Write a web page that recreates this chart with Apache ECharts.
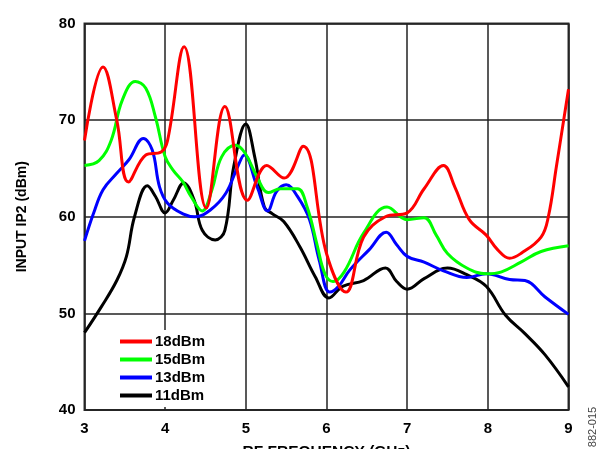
<!DOCTYPE html>
<html>
<head>
<meta charset="utf-8">
<script src="https://cdn.jsdelivr.net/npm/echarts@6/dist/echarts.min.js"></script>
<style>html,body{margin:0;padding:0;background:#fff}#c{width:609px;height:449px}</style>
</head>
<body>
<div id="c"></div>
<script>
const xTicks = [3, 4, 5, 6, 7, 8, 9];
const yTicks = [40, 50, 60, 70, 80];

const f18 = [3.0, 3.23, 3.40, 3.545, 3.76, 3.95, 4.03, 4.235, 4.51, 4.74, 5.02, 5.26, 5.475, 5.71, 6.0, 6.24, 6.46, 6.73, 7.0, 7.21, 7.45, 7.59, 7.77, 7.98, 8.12, 8.27, 8.41, 8.66, 8.75, 8.85, 9.0];
const v18 = [67.9, 75.5, 70.0, 63.6, 66.4, 66.7, 67.9, 77.6, 60.9, 71.4, 61.7, 65.3, 64.0, 67.3, 56.2, 52.2, 57.9, 60.0, 60.4, 62.9, 65.3, 63.1, 59.7, 58.1, 56.6, 55.7, 56.2, 57.9, 60.0, 65.2, 73.2];

const f15 = [3.0, 3.18, 3.33, 3.47, 3.63, 3.76, 3.88, 4.0, 4.1, 4.22, 4.32, 4.46, 4.58, 4.70, 4.87, 4.99, 5.14, 5.28, 5.43, 5.64, 5.76, 5.88, 5.98, 6.08, 6.22, 6.46, 6.75, 7.0, 7.21, 7.36, 7.50, 7.74, 7.98, 8.17, 8.41, 8.66, 9.0];
const v15 = [65.3, 65.8, 67.9, 72.1, 74.0, 73.3, 70.3, 66.2, 64.8, 63.6, 62.1, 60.6, 62.8, 66.2, 67.4, 66.6, 64.1, 62.5, 62.9, 62.9, 61.0, 57.2, 54.1, 53.3, 54.3, 58.3, 61.0, 59.7, 59.9, 58.1, 56.2, 54.7, 54.1, 54.3, 55.3, 56.4, 57.0];

const f13 = [3.0, 3.11, 3.23, 3.40, 3.55, 3.73, 3.84, 3.93, 4.03, 4.22, 4.37, 4.56, 4.75, 4.90, 4.98, 5.14, 5.27, 5.38, 5.50, 5.64, 5.79, 5.91, 6.04, 6.15, 6.29, 6.53, 6.74, 6.87, 7.0, 7.21, 7.45, 7.74, 7.98, 8.27, 8.46, 8.71, 9.0];
const v13 = [57.5, 60.3, 62.8, 64.5, 65.9, 68.1, 66.9, 63.1, 61.4, 60.3, 60.0, 60.7, 62.4, 65.2, 66.4, 63.1, 60.6, 62.6, 63.3, 62.1, 59.7, 55.5, 52.2, 52.8, 54.5, 56.6, 58.4, 57.1, 55.9, 55.3, 54.4, 53.7, 54.1, 53.5, 53.4, 51.7, 49.9];

const f11 = [3.0, 3.21, 3.40, 3.52, 3.62, 3.78, 3.88, 4.0, 4.10, 4.23, 4.36, 4.46, 4.62, 4.74, 4.85, 5.0, 5.11, 5.23, 5.33, 5.47, 5.67, 5.86, 6.03, 6.20, 6.46, 6.73, 6.87, 7.0, 7.21, 7.50, 7.74, 7.98, 8.22, 8.46, 8.71, 9.0];
const v11 = [48.0, 50.7, 53.4, 55.9, 60.0, 63.2, 62.1, 60.4, 61.7, 63.5, 61.7, 58.6, 57.6, 58.6, 65.2, 69.6, 66.2, 61.0, 60.3, 59.5, 56.9, 53.8, 51.6, 52.8, 53.4, 54.7, 53.3, 52.5, 53.6, 54.7, 54.0, 52.8, 49.8, 47.9, 45.7, 42.4];

const seriesNames = ['18dBm', '15dBm', '13dBm', '11dBm'];
const seriesColors = ['#ff0000', '#00ff00', '#0000ff', '#000000'];
const seriesX = [f18, f15, f13, f11];
const seriesY = [v18, v15, v13, v11];

const zip = (xs, ys) => xs.map((x, i) => [x, ys[i]]);
const font = 'Arial, "Liberation Sans", sans-serif';

const chart = echarts.init(document.getElementById('c'), null, {renderer: 'canvas'});
chart.setOption({
  animation: false,
  backgroundColor: '#fff',
  grid: {left: 84.5, right: 40.5, top: 23.5, bottom: 39, show: true, borderColor: '#333', borderWidth: 2,
         backgroundColor: 'transparent', containLabel: false, outerBoundsMode: 'none'},
  xAxis: {
    type: 'value', min: xTicks[0], max: xTicks[xTicks.length - 1], interval: 1,
    axisLine: {show: false}, axisTick: {show: false},
    splitLine: {show: true, lineStyle: {color: '#222', width: 1.5}},
    axisLabel: {color: '#000', fontFamily: font, fontWeight: 'bold', fontSize: 15, margin: 11},
    name: 'RF FREQUENCY (GHz)', nameLocation: 'middle', nameGap: 34,
    nameTextStyle: {color: '#000', fontFamily: font, fontWeight: 'bold', fontSize: 15.5}
  },
  yAxis: {
    type: 'value', min: yTicks[0], max: yTicks[yTicks.length - 1], interval: 10,
    axisLine: {show: false}, axisTick: {show: false},
    splitLine: {show: true, lineStyle: {color: '#222', width: 1.5}},
    axisLabel: {color: '#000', fontFamily: font, fontWeight: 'bold', fontSize: 15, margin: 9},
    name: 'INPUT IP2 (dBm)', nameLocation: 'middle', nameGap: 55, nameRotate: 90,
    nameTextStyle: {color: '#000', fontFamily: font, fontWeight: 'bold', fontSize: 14}
  },
  legend: {
    show: true, orient: 'vertical', left: 116, top: 330,
    backgroundColor: '#fff', padding: [4, 4, 4, 4],
    itemWidth: 32, itemHeight: 4, itemGap: 3, icon: 'rect',
    textStyle: {color: '#000', fontFamily: font, fontWeight: 'bold', fontSize: 15, padding: [0, 0, 0, -2]},
    data: seriesNames
  },
  graphic: [{
    type: 'text', x: 593, y: 427, rotation: Math.PI / 2,
    style: {text: '882-015', fill: '#444', font: '11px Arial, "Liberation Sans", sans-serif', align: 'center', verticalAlign: 'middle'}
  }],
  series: seriesNames.map((n, i) => ({
    name: n, type: 'line', smooth: 0.4, symbol: 'none',
    data: zip(seriesX[i], seriesY[i]),
    lineStyle: {color: seriesColors[i], width: 3},
    itemStyle: {color: seriesColors[i]},
    z: 10 - i
  }))
});
</script>
</body>
</html>
